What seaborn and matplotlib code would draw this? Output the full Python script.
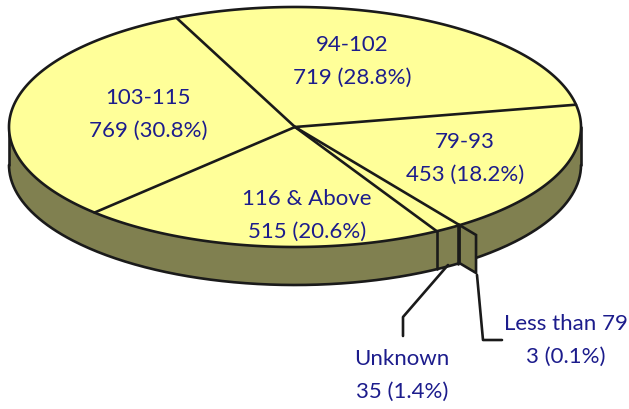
import numpy as np
import matplotlib
matplotlib.use('Agg')
import matplotlib.pyplot as plt
import seaborn as sns

# slices clockwise, starting at the 94-102 / 103-115 border
labels = ['94-102', '79-93', 'Less than 79', 'Unknown', '116 & Above', '103-115']
counts = [719, 453, 3, 35, 515, 769]
pcts = [28.8, 18.2, 0.1, 1.4, 20.6, 30.8]

sns.set_theme(style='white')
plt.rcParams['font.family'] = ['Lato', 'Liberation Sans', 'DejaVu Sans']

TOP = '#ffff99'
SIDE = '#808050'
NAVY = '#1c1c8c'
LW = 1.9

cx, cy, rx, ry, depth = 295, 127, 286, 120, 38
start = -24.5


def xy(a, r=1.0):
    # a is degrees clockwise from the top of the pie
    t = np.radians(a)
    return cx + r * rx * np.sin(t), cy - r * ry * np.cos(t)


def spoke(ax, a, r=1.0):
    x, y = xy(a, r)
    sns.lineplot(x=[cx, x], y=[cy, y], ax=ax, color='k', lw=LW, sort=False, errorbar=None, estimator=None)


fig, ax = plt.subplots(figsize=(6.29, 4.09), dpi=100)
ax.set_position([0, 0, 1, 1])
ax.set_xlim(0, 629)
ax.set_ylim(409, 0)
ax.axis('off')

edges = start + np.cumsum([0] + pcts) / np.sum(pcts) * 360

# front wall
a = np.linspace(90, 270, 300)
x, y = xy(a)
ax.fill(np.r_[x, x[::-1]], np.r_[y, y[::-1] + depth], color=SIDE, lw=0, zorder=1)
ax.plot(x, y + depth, color='k', lw=LW, zorder=2)
# left and right ends of the wall
for e in [90, 270]:
    x0, y0 = xy(e)
    ax.plot([x0, x0], [y0, y0 + depth], color='k', lw=LW, zorder=2)

# top face
a = np.linspace(0, 360, 500)
x, y = xy(a)
ax.fill(x, y, facecolor=TOP, edgecolor='k', lw=LW, zorder=3)
for e in edges[:-1]:
    if e != edges[3]:
        spoke(ax, e)
for line in ax.lines[-5:]:
    line.set_zorder(4)

# wall seams at the front slice borders
for e in [edges[4], edges[3]]:
    x0, y0 = xy(e)
    ax.plot([x0, x0], [y0, y0 + depth], color='k', lw=LW, zorder=5)

# the tiny exploded slice shows its side face
x0, y0 = xy(edges[2])
x1, y1 = xy(edges[2], 1.10)
ax.fill([x0, x1, x1, x0], [y0, y1, y1 + depth, y0 + depth], facecolor=SIDE, edgecolor='k', lw=LW, zorder=5)

# leader lines
ax.plot([448, 403, 403], [265, 317, 336], color='k', lw=LW, zorder=2)
ax.plot([477, 483, 502], [275, 340, 340], color='k', lw=LW, zorder=2)

# slice labels
pos = {0: (352, 61), 1: (465, 158), 2: (566, 340), 3: (402, 375), 4: (307, 215), 5: (148, 114)}
for i, (px, py) in pos.items():
    ax.text(px, py, f'{labels[i]}\n{counts[i]} ({pcts[i]}%)', color=NAVY, fontsize=16,
            ha='center', va='center', linespacing=1.8, zorder=6)

fig.savefig('out.png', dpi=100)
